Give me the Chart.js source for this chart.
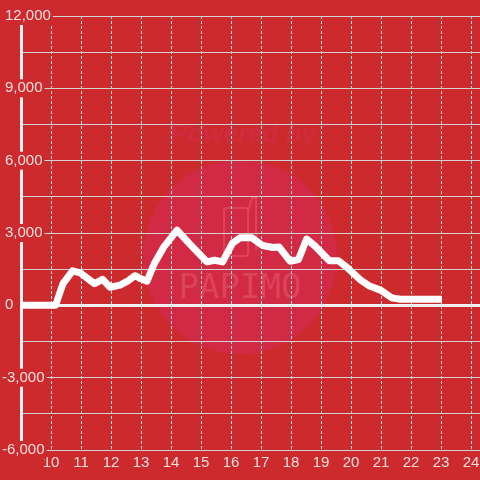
<!DOCTYPE html>
<html lang="en">
<head>
<meta charset="UTF-8">
<title>Hourly line</title>
<style>
  html, body { margin: 0; padding: 0; background: #cd2a2e; }
  #wrap { width: 480px; height: 480px; }
</style>
</head>
<body>
<div id="wrap"><canvas id="chart"></canvas></div>
<script src="https://cdn.jsdelivr.net/npm/chart.js"></script>
<script>
  // readings (hour of day, value)
  const hours = [9, 10.15, 10.4, 10.72, 10.97, 11.45, 11.72, 11.97, 12.3, 12.55, 12.8, 13.0, 13.2,
    13.45, 13.75, 14.2, 14.62, 15.2, 15.45, 15.72, 16.05, 16.3, 16.7, 17.05, 17.4, 17.6,
    17.97, 18.25, 18.52, 18.8, 19.28, 19.58, 19.86, 20.3, 20.62, 21.0, 21.36, 21.65, 23.03];
  const values = [0, 0, 900, 1430, 1350, 900, 1080, 750, 840, 1000, 1230, 1100, 1000,
    1750, 2400, 3120, 2550, 1800, 1870, 1800, 2580, 2800, 2800, 2480, 2400, 2420,
    1830, 1900, 2750, 2460, 1850, 1850, 1580, 1070, 800, 620, 310, 250, 250];
  const xTicks = [10, 11, 12, 13, 14, 15, 16, 17, 18, 19, 20, 21, 22, 23, 24];
  const yMin = -6000, yMax = 12000, yStep = 1500, yLabelStep = 3000;

  const red = '#cd2a2e';
  const labelColor = '#f6dede';
  const labelFont = '15px "Liberation Sans", Arial';

  const watermark = {
    id: 'watermark',
    beforeDraw(chart) {
      const c = chart.ctx;
      c.save();
      c.fillStyle = 'rgba(215, 40, 90, 0.55)';
      c.beginPath();
      c.arc(240, 257, 97, 0, Math.PI * 2);
      c.fill();
      c.fillStyle = 'rgba(214, 44, 80, 0.5)';
      c.font = 'italic bold 26px "Liberation Sans", Arial';
      c.textAlign = 'center';
      c.textBaseline = 'middle';
      c.fillText('Powered by', 243, 135);
      c.strokeStyle = 'rgba(240, 110, 120, 0.4)';
      c.lineWidth = 2;
      c.beginPath();
      c.roundRect(224, 208, 24, 48, 3);
      c.moveTo(248, 212); c.lineTo(252, 198); c.lineTo(256, 198); c.lineTo(256, 250);
      c.stroke();
      c.fillStyle = 'rgba(240, 120, 130, 0.35)';
      c.font = '34px "DejaVu Sans Mono", monospace';
      c.fillText('PAPIMO', 240, 289);
      c.restore();
    }
  };

  // y labels sit over the axis line with a red backing, like the original
  const yLabels = {
    id: 'yLabels',
    afterDraw(chart) {
      const c = chart.ctx, y = chart.scales.y;
      c.save();
      c.font = labelFont;
      c.textBaseline = 'middle';
      c.textAlign = 'left';
      y.ticks.forEach(t => {
        if (t.value % yLabelStep !== 0) return;
        const txt = t.value.toLocaleString('en-US');
        const py = y.getPixelForValue(t.value);
        const w = c.measureText(txt).width;
        const x = t.value < 0 ? 2 : 5;
        c.fillStyle = red;
        c.fillRect(x - 2, py - 9, w + 4, 18);
        c.fillStyle = labelColor;
        c.fillText(txt, x, py);
      });
      c.restore();
    }
  };

  new Chart(document.getElementById('chart'), {
    type: 'line',
    data: {
      datasets: [{
        data: hours.map((h, i) => ({ x: h, y: values[i] })),
        borderColor: '#ffffff',
        borderWidth: 7,
        pointRadius: 0,
        tension: 0,
        borderJoinStyle: 'round',
        fill: false
      }]
    },
    options: {
      responsive: true,
      maintainAspectRatio: false,
      animation: false,
      devicePixelRatio: 1,
      layout: { padding: { left: 21, top: 16, right: 0, bottom: 8 } },
      plugins: { legend: { display: false }, tooltip: { enabled: false } },
      scales: {
        x: {
          type: 'linear',
          min: 9,
          max: 24.3,
          afterBuildTicks: s => { s.ticks = xTicks.map(v => ({ value: v })); },
          grid: { color: '#e8e2e2', lineWidth: 1, drawTicks: true, tickLength: 4, tickColor: 'rgba(0,0,0,0)' },
          border: { display: false, dash: [3, 2] },
          ticks: {
            color: labelColor,
            font: { family: '"Liberation Sans", Arial', size: 15 },
            padding: 0,
            maxRotation: 0,
            autoSkip: false
          }
        },
        y: {
          min: yMin,
          max: yMax,
          grid: {
            drawTicks: false,
            color: ctx => ctx.tick.value === 0 ? '#f2f2f2' : '#d2d2d2',
            lineWidth: ctx => ctx.tick.value === 0 ? 3 : 1
          },
          border: { display: true, color: '#f2f2f2', width: 3 },
          ticks: { stepSize: yStep, display: false }
        }
      }
    },
    plugins: [watermark, yLabels]
  });
</script>
</body>
</html>
